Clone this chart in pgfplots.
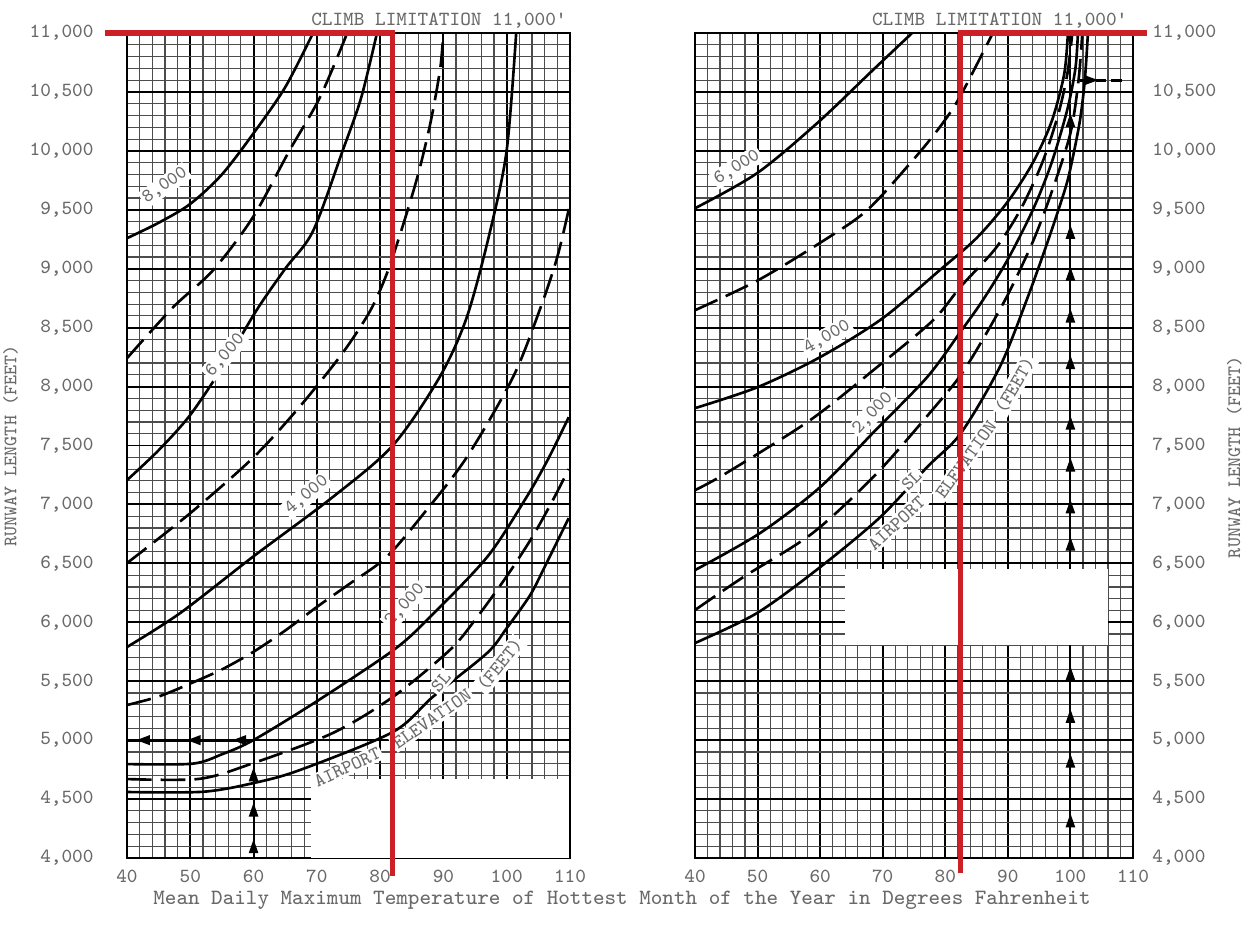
\documentclass[border=0pt]{standalone}
\usepackage{pgfplots}
\pgfplotsset{compat=1.18}
\usetikzlibrary{decorations.markings,arrows.meta}
\definecolor{redline}{RGB}{204,32,39}
\definecolor{txt}{RGB}{105,105,105}
\tikzset{
  arrmarks/.style={postaction={decorate},decoration={markings,#1}},
  dsh/.style={dash pattern=on 7pt off 2.6pt},
  lab/.style={font=\fontsize{5.4}{6}\selectfont\ttfamily, text=txt, fill=white, inner sep=0.6pt},
}
\newcommand{\ah}{\arrow{Triangle[length=4pt,width=2.6pt]}}
\pgfplotsset{
  chart/.style={
    scale only axis, height=8.25cm,
    xmin=40,xmax=110,ymin=4000,ymax=11000,
    scaled x ticks=false, scaled y ticks=false,
    xtick={40,50,...,110},
    xticklabels={40,50,60,70,80,90,100,110},
    ytick={4000,4500,...,11000},
    yticklabels={{4,000},{4,500},{5,000},{5,500},{6,000},{6,500},{7,000},{7,500},{8,000},{8,500},{9,000},{9,500},{10,000},{10,500},{11,000}},
    minor x tick num=4, minor y tick num=4,
    grid=both,
    major grid style={black, line width=0.55pt},
    minor grid style={black!70, line width=0.33pt},
    major tick length=0pt, minor tick length=0pt,
    axis line style={black,line width=0.6pt},
    tick label style={font=\fontsize{5.7}{6}\selectfont\ttfamily, text=txt},
    clip=false,
    every axis plot/.append style={black, line width=0.75pt},
  },
}
\begin{document}
\begin{tikzpicture}
\useasboundingbox (0cm,0cm) rectangle (12.44cm,9.26cm);
% ---------------- LEFT PANEL ----------------
\begin{axis}[chart, at={(1.27cm,0.68cm)}, anchor=south west, width=4.43cm,
  yticklabel style={xshift=-6pt}]
\fill[white] (axis cs:69,4003) rectangle (axis cs:109.8,4670);
% 8000 solid
\addplot[smooth] coordinates {(40,9259) (45,9390) (50,9550) (55,9800) (60,10150) (65,10540) (69.4,11000)};
% 7000 dashed
\addplot[smooth,dsh] coordinates {(40,8241) (47.3,8674) (53.6,8987) (59.9,9437) (65.7,10005) (70.5,10455) (74.8,11000)};
% 6000 solid
\addplot[smooth] coordinates {(40,7206) (45,7460) (50,7760) (55.5,8200) (60.5,8650) (65,9000) (69.4,9320) (74.1,10005) (77,10450) (79.5,11000)};
% 5000 dashed
\addplot[smooth,dsh] coordinates {(40,6502) (50,6926) (60,7400) (67.3,7830) (74,8280) (78.4,8640) (81,8950) (83.5,9350) (86,9800) (88,10250) (89.5,10700) (90,11000)};
% 4000 solid
\addplot[smooth] coordinates {(40,5790) (48.4,6078) (60,6560) (72.5,7062) (82,7500) (89.4,8080) (93.7,8589) (97.3,9301) (100,10005) (101.5,11000)};
% 3000 dashed
\addplot[smooth,dsh] coordinates {(40,5298) (45,5370) (50,5480) (55,5600) (60,5750) (65,5930) (70,6130) (75,6320) (81,6553) (87,6930) (93.7,7401) (101,8080) (105.2,8648) (108,9100) (110,9550)};
% 2000 solid
\addplot[smooth] coordinates {(40,4797) (50.3,4800) (55,4880) (60,5001) (70,5330) (82,5760) (87.4,6019) (96.9,6553) (103,7050) (106.5,7380) (109.8,7740)};
% 1000 dashed
\addplot[smooth,dsh] coordinates {(40,4670) (51.5,4672) (60,4806) (72.5,5060) (82,5366) (91,5764) (95,6020) (100,6390) (104,6720) (107.3,7037) (109.8,7300)};
% SL solid
\addplot[smooth] coordinates {(40,4560) (52,4562) (60,4636) (67.3,4746) (82,5069) (88.3,5366) (96.9,5739) (100,5950) (103.7,6230) (106,6470) (109.8,6884)};
% arrows
\addplot[line width=0.6pt, arrmarks={mark=at position 0.16 with {\ah}, mark=at position 0.47 with {\ah}, mark=at position 0.77 with {\ah}}] coordinates {(60,4000) (60,5000)};
\addplot[line width=0.9pt, arrmarks={mark=at position 0.17 with {\ah}, mark=at position 0.53 with {\ah}, mark=at position 0.93 with {\ah}}] coordinates {(60,5000) (40,5000)};
% labels
\node[lab, rotate=35] at (axis cs:46,9708) {8,000};
\node[lab, rotate=49] at (axis cs:55.5,8266) {6,000};
\node[lab, rotate=40] at (axis cs:68.4,7079) {4,000};
\node[lab, rotate=48] at (axis cs:83.9,6146) {2,000};
\node[lab, rotate=50] at (axis cs:89.6,5493) {SL};
\node[lab, rotate=25] at (axis cs:74.8,4770) {AIRPORT};
\node[lab, rotate=35] at (axis cs:88.2,5180) {ELEVATION};
\node[lab, rotate=51] at (axis cs:98.9,5640) {(FEET)};
\node[font=\fontsize{5.7}{6}\selectfont\ttfamily, text=txt, anchor=base] at (axis cs:89.3,11060) {CLIMB LIMITATION 11,000'};
\node[font=\fontsize{5.4}{6}\selectfont\ttfamily, text=txt, rotate=90] at (axis cs:21.6,7495) {RUNWAY LENGTH (FEET)};
% red lines
\addplot[redline, line width=1.45pt] coordinates {(36.5,11000) (82,11000) (82,3850)};
\end{axis}
% ---------------- RIGHT PANEL ----------------
\begin{axis}[chart, at={(6.95cm,0.68cm)}, anchor=south west, width=4.38cm,
  yticklabel pos=right, yticklabel style={xshift=2pt}]
\fill[white] (axis cs:64,5807) rectangle (axis cs:106,6450);
% 6000 solid
\addplot[smooth] coordinates {(40,9513) (49.9,9810) (59.5,10234) (68.4,10684) (74.7,11000)};
% 5000 dashed
\addplot[smooth,dsh] coordinates {(40,8648) (50,8900) (60,9220) (67.5,9496) (74.8,9920) (79.1,10200) (82.3,10455) (87.6,11000)};
% 4000 solid
\addplot[smooth] coordinates {(40,7817) (50,7995) (60,8250) (70,8580) (79.1,8987) (85,9260) (90,9570) (94,9900) (97,10250) (99,10650) (99.6,11000)};
% 3000 dashed
\addplot[smooth,dsh] coordinates {(40,7121) (45,7266) (58.4,7715) (69.1,8165) (78,8560) (82.5,8850) (88,9170) (92,9500) (95.5,9900) (98,10300) (99.5,10650) (100.3,11000)};
% 2000 solid
\addplot[smooth] coordinates {(40,6443) (50.4,6757) (60,7147) (68.4,7605) (77.1,8080) (82.5,8470) (86,8733) (90,9080) (94,9500) (97,9900) (99.5,10350) (100.8,10700) (101.2,11000)};
% 1000 dashed
\addplot[smooth,dsh] coordinates {(40,6104) (47.7,6383) (58.8,6757) (69.1,7266) (78.7,7850) (82.5,8100) (86,8400) (90,8780) (94,9230) (97,9650) (100,10150) (101.3,10600) (101.9,11000)};
% SL solid
\addplot[smooth] coordinates {(40,5824) (49.9,6078) (60,6468) (69.6,6892) (77.1,7317) (82.5,7605) (88.7,8165) (93,8733) (96.5,9250) (99,9650) (100,9850) (101.5,10250) (102.3,10600) (102.8,11000)};
% arrows
\addplot[line width=0.6pt, arrmarks={mark=at position 0.21 with {\ah}, mark=at position 0.49 with {\ah}, mark=at position 0.70 with {\ah}, mark=at position 0.90 with {\ah}}] coordinates {(100,4000) (100,5807)};
\addplot[line width=0.6pt, arrmarks={mark=at position 0.07 with {\ah}, mark=at position 0.15 with {\ah}, mark=at position 0.24 with {\ah}, mark=at position 0.33 with {\ah}, mark=at position 0.46 with {\ah}, mark=at position 0.56 with {\ah}, mark=at position 0.65 with {\ah}, mark=at position 0.74 with {\ah}, mark=at position 0.98 with {\ah}}] coordinates {(100,6450) (100,10400)};
\addplot[line width=0.8pt, dash pattern=on 3pt off 1.5pt, arrmarks={mark=at position 0.4 with {\ah}}] coordinates {(101.5,10600) (109,10600)};
% labels
\node[lab, rotate=32] at (axis cs:46.7,9861) {6,000};
\node[lab, rotate=30] at (axis cs:61.1,8419) {4,000};
\node[lab, rotate=47] at (axis cs:68.4,7775) {2,000};
\node[lab, rotate=45] at (axis cs:74.6,7206) {SL};
\node[lab, rotate=43] at (axis cs:72.2,6840) {AIRPORT};
\node[lab, rotate=54] at (axis cs:83.3,7380) {ELEVATION};
\node[lab, rotate=60] at (axis cs:91.1,8010) {(FEET)};
\node[font=\fontsize{5.7}{6}\selectfont\ttfamily, text=txt, anchor=base] at (axis cs:88.7,11060) {CLIMB LIMITATION 11,000'};
\node[font=\fontsize{5.4}{6}\selectfont\ttfamily, text=txt, rotate=90] at (axis cs:126.2,7400) {RUNWAY LENGTH (FEET)};
% red lines
\addplot[redline, line width=1.45pt] coordinates {(82.5,3870) (82.5,11000) (112.2,11000)};
\end{axis}
\node[font=\fontsize{6.2}{7}\selectfont\ttfamily, text=txt] at (6.22cm,0.26cm) {Mean Daily Maximum Temperature of Hottest Month of the Year in Degrees Fahrenheit};
\end{tikzpicture}
\end{document}
